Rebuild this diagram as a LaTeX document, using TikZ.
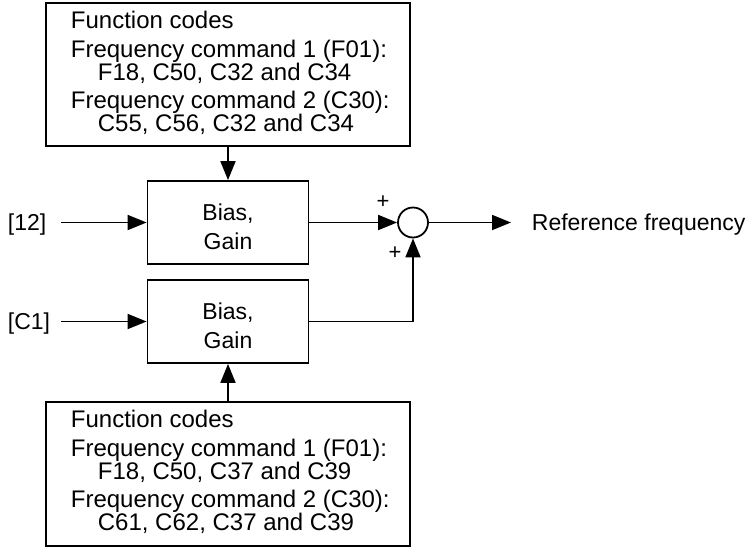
\documentclass[tikz,border=0pt]{standalone}
\usepackage{fontspec}
\setmainfont{Liberation Sans}
\usetikzlibrary{arrows.meta}
\newcommand\fs{\fontsize{23}{23}\selectfont}
\newcommand\fsb{\fontsize{24}{24}\selectfont}
\newcommand\fsp{\fontsize{22}{22}\selectfont}
\begin{document}
\begin{tikzpicture}[x=1pt,y=-1pt, line width=1.8pt,
  arr/.style={-{Triangle[length=19pt,width=15pt]}},
  blk/.style={draw, minimum width=161pt, minimum height=83pt, inner sep=0},
  codebox/.style={draw, minimum width=364pt, minimum height=143pt, inner sep=0},
  txt/.style={anchor=base west, inner sep=0, font=\fs},
  btxt/.style={anchor=base west, inner sep=0, font=\fsb},
  ctxt/.style={anchor=base, inner sep=0, font=\fs},
  plus/.style={inner sep=0, font=\fsp}]
\useasboundingbox (0,0) rectangle (754,549);

% top function-code box
\node[codebox] (top) at (228,74.5) {};
\node[btxt] (ta) at (70,28) {Function codes};
\node[btxt] (tb) at (70,57) {Frequency command 1 (F01):};
\node[btxt] (tc) at (97,80) {F18, C50, C32 and C34};
\node[btxt] (td) at (70,108) {Frequency command 2 (C30):};
\node[btxt] (te) at (97,131) {C55, C56, C32 and C34};

% bottom function-code box
\node[codebox, minimum height=144pt] (bot) at (228,474) {};
\node[btxt] (ba) at (70,427) {Function codes};
\node[btxt] (bb) at (70,456) {Frequency command 1 (F01):};
\node[btxt] (bc) at (97,479) {F18, C50, C37 and C39};
\node[btxt] (bd) at (70,507) {Frequency command 2 (C30):};
\node[btxt] (be) at (97,530) {C61, C62, C37 and C39};

% bias/gain blocks
\node[blk] (b1) at (228,222.5) {};
\node[ctxt] (b1a) at (228,220) {Bias,};
\node[ctxt] (b1b) at (228,249) {Gain};
\node[blk] (b2) at (228,321.5) {};
\node[ctxt] (b2a) at (228,319) {Bias,};
\node[ctxt] (b2b) at (228,348) {Gain};

% inputs
\node[txt] (in12) at (7,230.5) {[12]};
\node[txt] (inc1) at (7,329.5) {[C1]};
\coordinate (s12) at (61,222.5);
\coordinate (sc1) at (61,321.5);
\draw[arr] (s12) -- (s12 -| b1.west);
\draw[arr] (sc1) -- (sc1 -| b2.west);

% code boxes to blocks
\draw[arr] (top.south) -- (b1.north);
\draw[arr] (bot.north) -- (b2.south);

% summing point
\node[draw, circle, minimum size=30pt, inner sep=0] (sum) at (413,222.5) {};
\draw[arr] (b1.east) -- (sum.west);
\draw[arr] (b2.east) -| (sum.south);
\node[plus] (p1) at (383,202) {+};
\node[plus] (p2) at (395,253) {+};

% output
\coordinate (outend) at (511,222.5);
\draw[arr] (sum.east) -- (outend);
\node[txt] (ref) at (531,230.5) {Reference frequency};
\end{tikzpicture}
\end{document}
